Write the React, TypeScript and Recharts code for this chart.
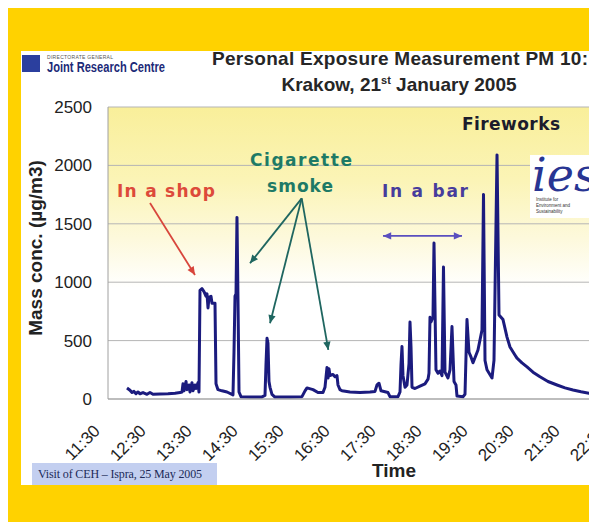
import { CartesianGrid, Line, LineChart, ReferenceLine, XAxis, YAxis } from "recharts";

// time of day in decimal hours (11.5 = 11:30)
const times = [
  11.913, 11.978, 12.022, 12.065, 12.109, 12.152, 12.196, 12.261, 12.348, 12.413,
  12.478, 12.63, 12.804, 12.957, 13.065, 13.109, 13.13, 13.152, 13.196, 13.217,
  13.261, 13.283, 13.326, 13.348, 13.391, 13.413, 13.457, 13.478, 13.5, 13.543,
  13.587, 13.63, 13.652, 13.674, 13.696, 13.739, 13.761, 13.826, 13.848, 13.891,
  13.978, 14.087, 14.217, 14.239, 14.261, 14.283, 14.304, 14.326, 14.348, 14.391,
  14.587, 14.848, 14.913, 14.935, 14.957, 14.978, 15.0, 15.022, 15.065, 15.13,
  15.457, 15.717, 15.783, 15.826, 15.957, 16.065, 16.174, 16.217, 16.261, 16.283,
  16.304, 16.326, 16.391, 16.435, 16.478, 16.5, 16.543, 16.587, 16.761, 16.978,
  17.196, 17.304, 17.348, 17.391, 17.435, 17.587, 17.63, 17.804, 17.848, 17.87,
  17.891, 17.913, 17.957, 18.0, 18.043, 18.065, 18.087, 18.109, 18.174, 18.283,
  18.391, 18.457, 18.478, 18.5, 18.522, 18.565, 18.587, 18.63, 18.674, 18.717,
  18.761, 18.793, 18.826, 18.891, 18.935, 18.978, 19.022, 19.065, 19.087, 19.217,
  19.261, 19.304, 19.348, 19.391, 19.435, 19.543, 19.63, 19.663, 19.696, 19.739,
  19.848, 19.891, 19.957, 20.0, 20.087, 20.174, 20.239, 20.326, 20.391, 20.5,
  20.609, 20.739, 20.891, 21.065, 21.261, 21.435, 21.609, 21.783, 21.957, 22.13,
];

// PM10 mass concentration, µg/m3
const pm10 = [
  94, 75, 55, 65, 45, 60, 45, 55, 40, 55,
  40, 42, 45, 50, 55, 60, 130, 70, 150, 80,
  120, 60, 140, 70, 120, 90, 140, 60, 930, 945,
  920, 880, 900, 780, 870, 880, 820, 820, 130, 80,
  70, 60, 35, 400, 880, 900, 1555, 850, 60, 20,
  18, 18, 30, 300, 520, 480, 150, 100, 40, 17,
  17, 20, 70, 95, 80, 55, 55, 100, 270, 180,
  260, 200, 210, 190, 200, 120, 80, 70, 60, 55,
  60, 65, 120, 135, 70, 55, 20, 20, 60, 300,
  450, 200, 100, 120, 300, 660, 450, 100, 90, 110,
  130, 170, 220, 700, 660, 700, 1335, 250, 220, 240,
  200, 1130, 230, 180, 250, 620, 150, 120, 25, 20,
  40, 680, 400, 360, 310, 420, 590, 1750, 330, 250,
  180, 330, 2090, 720, 680, 530, 445, 390, 350, 310,
  275, 230, 190, 150, 120, 95, 77, 62, 50, 45,
];

const hourTicks = [11.5, 12.5, 13.5, 14.5, 15.5, 16.5, 17.5, 18.5, 19.5, 20.5, 21.5, 22.5];
const concTicks = [0, 500, 1000, 1500, 2000, 2500];

// annotation arrows, in chart units (hour, µg/m3)
const shopArrow = [{ x: 12.413, y: 1678 }, { x: 13.391, y: 1062 }];
const smokeArrows = [
  [{ x: 15.711, y: 1718 }, { x: 14.587, y: 1162 }],
  [{ x: 15.711, y: 1718 }, { x: 15.022, y: 648 }],
  [{ x: 15.711, y: 1718 }, { x: 16.289, y: 420 }],
];
const barArrow = [{ x: 17.478, y: 1396 }, { x: 19.196, y: 1396 }];

const data = times.map((t, i) => ({ t, v: pm10[i] }));

const SANS = '"Liberation Sans", Arial, sans-serif';
const HAND = '"DejaVu Sans", sans-serif';

const fmtTime = (h: number) => {
  const hh = Math.floor(h);
  const mm = Math.round((h - hh) * 60);
  return `${hh}:${String(mm).padStart(2, "0")}`;
};

const head = (x: number, y: number, a: number, size = 9) =>
  `${x},${y} ${x - size * Math.cos(a - 0.42)},${y - size * Math.sin(a - 0.42)} ${
    x - size * Math.cos(a + 0.42)
  },${y - size * Math.sin(a + 0.42)}`;

const arrowShape = (color: string, both = false) => (props: any) => {
  const { x1, y1, x2, y2 } = props;
  const a = Math.atan2(y2 - y1, x2 - x1);
  return (
    <g>
      <line x1={x1} y1={y1} x2={x2} y2={y2} stroke={color} strokeWidth={1.8} />
      <polygon points={head(x2, y2, a)} fill={color} />
      {both && <polygon points={head(x1, y1, a + Math.PI)} fill={color} />}
    </g>
  );
};

const TimeTick = (props: any) => {
  const { x, y, payload } = props;
  const ax = x - 7;
  const ay = y + 33;
  return (
    <text
      x={ax}
      y={ay}
      transform={`rotate(-45, ${ax}, ${ay})`}
      textAnchor="end"
      fontSize={17}
      fontFamily={SANS}
      fill="#222"
    >
      {fmtTime(payload.value)}
    </text>
  );
};

export default function App() {
  return (
    <div
      style={{
        position: "fixed",
        left: 8,
        top: 8,
        width: 581,
        height: 514,
        background: "#ffd200",
        overflow: "hidden",
      }}
    >
      <div
        style={{
          position: "absolute",
          left: 13,
          top: 43,
          width: 700,
          height: 434,
          background: "#ffffff",
        }}
      />
      <div style={{ position: "absolute", left: 0, top: 0 }}>
        <LineChart
          width={660}
          height={514}
          data={data}
          margin={{ top: 99, right: 54, bottom: 0, left: 8 }}
        >
          <defs>
            <linearGradient id="plotBg" x1="0" y1="0" x2="0" y2="1">
              <stop offset="0%" stopColor="#f9ef9a" />
              <stop offset="25%" stopColor="#fbf4b6" />
              <stop offset="45%" stopColor="#fdf9dc" />
              <stop offset="62%" stopColor="#ffffff" />
              <stop offset="100%" stopColor="#ffffff" />
            </linearGradient>
          </defs>
          <CartesianGrid vertical={false} stroke="#b5b5b5" fill="url(#plotBg)" fillOpacity={1} />
          <XAxis
            dataKey="t"
            type="number"
            domain={[11.5, 22.5]}
            ticks={hourTicks}
            height={123}
            tickSize={0}
            tickMargin={0}
            tickLine={false}
            axisLine={{ stroke: "#a0a0a0" }}
            tick={<TimeTick />}
            interval={0}
          />
          <YAxis
            domain={[0, 2500]}
            ticks={concTicks}
            width={92}
            tickSize={0}
            tickMargin={16}
            tickLine={false}
            axisLine={{ stroke: "#a0a0a0" }}
            tick={{ fontSize: 17, fontFamily: SANS, fill: "#222" }}
          />
          <Line
            type="linear"
            dataKey="v"
            stroke="#1b1b7e"
            strokeWidth={3}
            strokeLinejoin="round"
            dot={false}
            isAnimationActive={false}
          />
          <ReferenceLine segment={shopArrow} shape={arrowShape("#d8463c")} />
          {smokeArrows.map((seg, i) => (
            <ReferenceLine key={i} segment={seg} shape={arrowShape("#1f6660")} />
          ))}
          <ReferenceLine segment={barArrow} shape={arrowShape("#5a4fbf", true)} />
        </LineChart>
      </div>
      <svg
        width={581}
        height={514}
        style={{ position: "absolute", left: 0, top: 0, pointerEvents: "none" }}
      >
        {/* header */}
        <rect x={14} y={47} width={18} height={17} fill="#2b3f9e" />
        <text x={39} y={51} fontSize={5} fontFamily={SANS} fill="#555" textLength={66}>
          DIRECTORATE GENERAL
        </text>
        <text
          x={39}
          y={64}
          fontSize={14}
          fontWeight="bold"
          fontFamily={SANS}
          fill="#1c2a78"
          textLength={118}
          lengthAdjust="spacingAndGlyphs"
        >
          Joint Research Centre
        </text>
        <text
          x={204}
          y={57}
          fontSize={19}
          fontWeight="bold"
          fontFamily={SANS}
          fill="#262626"
          textLength={376}
        >
          Personal Exposure Measurement PM 10:
        </text>
        <text
          x={391}
          y={83}
          textAnchor="middle"
          fontSize={19}
          fontWeight="bold"
          fontFamily={SANS}
          fill="#262626"
        >
          Krakow, 21
          <tspan fontSize={11} dy={-7}>
            st
          </tspan>
          <tspan dy={7}> January 2005</tspan>
        </text>

        {/* annotations */}
        <text x={109} y={189} fontSize={17} fontWeight="bold" fontFamily={HAND} fill="#dd4a3a" textLength={98}>
          In a shop
        </text>
        <text x={242} y={158} fontSize={17} fontWeight="bold" fontFamily={HAND} fill="#1e7a66" textLength={102}>
          Cigarette
        </text>
        <text x={259} y={184} fontSize={17} fontWeight="bold" fontFamily={HAND} fill="#1e7a66" textLength={66}>
          smoke
        </text>
        <text x={374} y={189} fontSize={17} fontWeight="bold" fontFamily={HAND} fill="#473c9c" textLength={86}>
          In a bar
        </text>
        <text x={454} y={122} fontSize={17} fontWeight="bold" fontFamily={HAND} fill="#1c1c2c" textLength={98}>
          Fireworks
        </text>

        {/* IES logo */}
        <rect x={522} y={147} width={70} height={63} fill="#ffffff" />
        <text
          x={524}
          y={183}
          fontSize={46}
          fontStyle="italic"
          fontFamily='"DejaVu Serif", serif'
          fill="#283593"
        >
          ies
        </text>
        <text x={528} y={193} fontSize={4.5} fontFamily={SANS} fill="#333">
          Institute for
        </text>
        <text x={528} y={199} fontSize={4.5} fontFamily={SANS} fill="#333">
          Environment and
        </text>
        <text x={528} y={205} fontSize={4.5} fontFamily={SANS} fill="#333">
          Sustainability
        </text>

        {/* axis titles */}
        <text
          transform="translate(33.5, 240) rotate(-90)"
          textAnchor="middle"
          fontSize={19}
          fontWeight="bold"
          fontFamily={SANS}
          fill="#222"
        >
          Mass conc. (µg/m3)
        </text>
        <text
          x={386}
          y={469}
          textAnchor="middle"
          fontSize={19}
          fontWeight="bold"
          fontFamily={SANS}
          fill="#222"
        >
          Time
        </text>

        {/* footer */}
        <rect x={24} y={455} width={185} height={22} fill="#c3cff0" />
        <text
          x={30}
          y={470}
          fontSize={12}
          fontFamily='"Liberation Serif", "Times New Roman", serif'
          fill="#202a58"
          textLength={164}
        >
          Visit of CEH – Ispra, 25 May 2005
        </text>
      </svg>
    </div>
  );
}
